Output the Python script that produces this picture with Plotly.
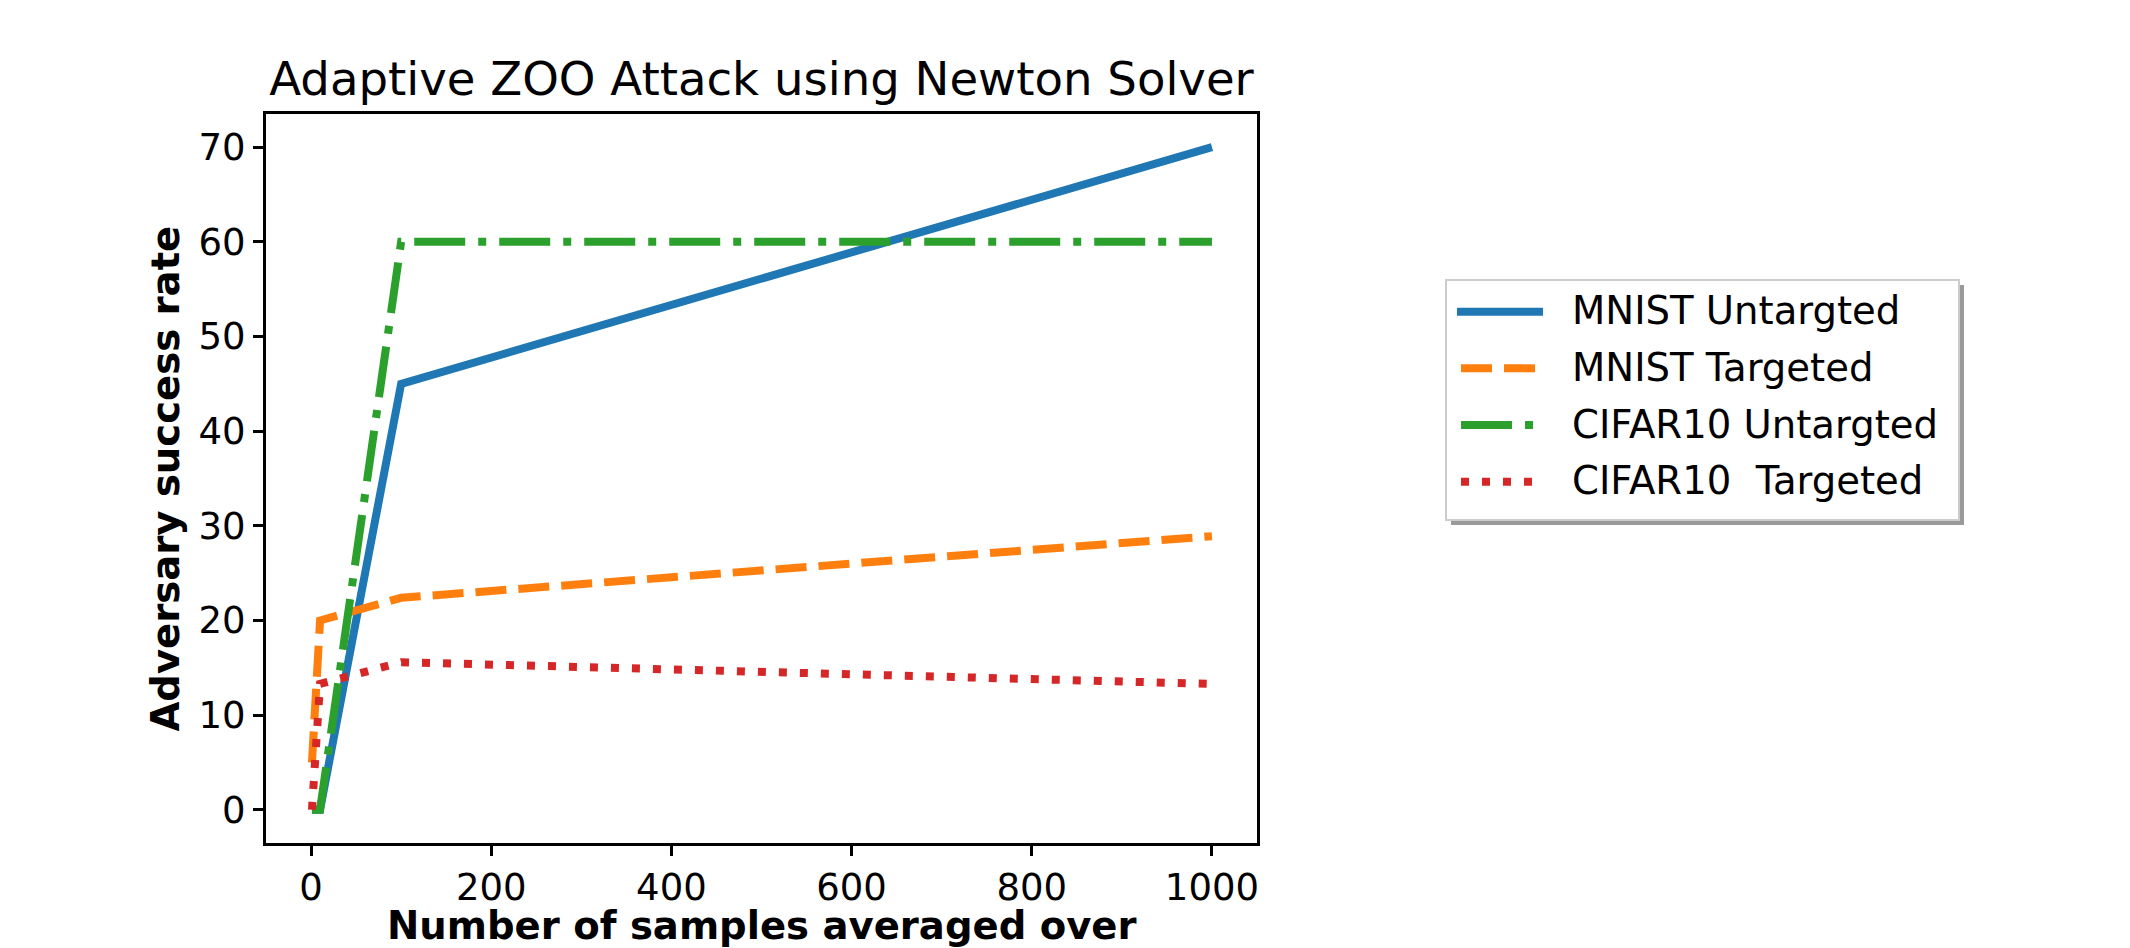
import plotly.graph_objects as go

# ---------------- data ----------------
series_names = ["MNIST Untargted", "MNIST Targeted", "CIFAR10 Untargted", "CIFAR10  Targeted"]
x_mnist_untargeted = [1, 10, 100, 1000]
y_mnist_untargeted = [0, 0, 45, 70]
x_mnist_targeted = [1, 10, 100, 1000]
y_mnist_targeted = [5, 20, 22.4, 28.9]
x_cifar_untargeted = [1, 10, 100, 1000]
y_cifar_untargeted = [0, 0, 60, 60]
x_cifar_targeted = [1, 10, 100, 1000]
y_cifar_targeted = [0, 13.3, 15.6, 13.3]
x_tick_values = [0, 200, 400, 600, 800, 1000]
y_tick_values = [0, 10, 20, 30, 40, 50, 60, 70]

title_text = "Adaptive ZOO Attack using Newton Solver"
x_label = "Number of samples averaged over"
y_label = "Adversary success rate"

# ---------------- style ----------------
W, H = 2130, 948
PL, PR, PT, PB = 266, 1257, 114, 843  # plot area in pixels
colors = ["#1f77b4", "#ff7f0e", "#2ca02c", "#d62728"]
dashes = ["solid", "31px,12px", "51px,13px,8px,13px", "8px,13px"]
LW = 8
FONT = "DejaVu Sans"
TICK_SIZE = 37
LABEL_SIZE = 38.6
TITLE_SIZE = 46.6

def px_x(p):
    return (p - PL) / (PR - PL)

def px_y(p):
    return (PB - p) / (PB - PT)

series = [
    (x_mnist_untargeted, y_mnist_untargeted),
    (x_mnist_targeted, y_mnist_targeted),
    (x_cifar_untargeted, y_cifar_untargeted),
    (x_cifar_targeted, y_cifar_targeted),
]

fig = go.Figure()
for (xs, ys), name, c, d in zip(series, series_names, colors, dashes):
    fig.add_trace(go.Scatter(
        x=xs, y=ys, mode="lines", name=name, showlegend=False,
        line=dict(color=c, width=LW, dash=d), hoverinfo="x+y+name",
    ))

# ---------------- custom legend (matplotlib style with shadow) ----------------
LB_L, LB_R, LB_T, LB_B = 1446, 1959, 280, 520
shapes = []
shapes.append(dict(type="rect", xref="paper", yref="paper",
                   x0=px_x(LB_L + 5), x1=px_x(LB_R + 5), y0=px_y(LB_B + 5), y1=px_y(LB_T + 5),
                   fillcolor="#9a9a9a", line=dict(width=0), layer="above"))
shapes.append(dict(type="rect", xref="paper", yref="paper",
                   x0=px_x(LB_L), x1=px_x(LB_R), y0=px_y(LB_B), y1=px_y(LB_T),
                   fillcolor="white", line=dict(color="#cccccc", width=2), layer="above"))
entry_y = [311.7, 368.3, 425.0, 481.7]
annotations = []
for i, (name, c, d) in enumerate(zip(series_names, colors, dashes)):
    x0 = 1457 if d == "solid" else 1461
    x1 = 1543 if d == "solid" else 1537
    shapes.append(dict(type="line", xref="paper", yref="paper",
                       x0=px_x(x0), x1=px_x(x1), y0=px_y(entry_y[i]), y1=px_y(entry_y[i]),
                       line=dict(color=c, width=LW, dash=d), layer="above"))
    annotations.append(dict(xref="paper", yref="paper", x=px_x(1570), y=px_y(entry_y[i] - 1),
                            text=name.replace("  ", "\u00a0 "), showarrow=False,
                            xanchor="left", yanchor="middle",
                            font=dict(family=FONT, size=LABEL_SIZE, color="black")))

# axis titles
annotations.append(dict(xref="paper", yref="paper", x=0.5, y=px_y(925), text="<b>%s</b>" % x_label,
                        showarrow=False, xanchor="center", yanchor="middle",
                        font=dict(family=FONT, size=LABEL_SIZE, color="black")))
annotations.append(dict(xref="paper", yref="paper", x=px_x(165), y=0.5, text="<b>%s</b>" % y_label,
                        showarrow=False, xanchor="center", yanchor="middle", textangle=-90,
                        font=dict(family=FONT, size=LABEL_SIZE, color="black")))

axis_common = dict(
    showline=True, linecolor="black", linewidth=3, mirror=True,
    ticks="outside", ticklen=10, tickwidth=3, tickcolor="black",
    showgrid=False, zeroline=False,
    tickfont=dict(family=FONT, size=TICK_SIZE, color="black"),
)

fig.update_layout(
    width=W, height=H,
    margin=dict(l=PL, r=W - PR, t=PT, b=H - PB, autoexpand=False),
    paper_bgcolor="white", plot_bgcolor="white",
    title=dict(text=title_text, x=0.5, xref="paper", xanchor="center",
               y=1 - 79 / H, yref="container", yanchor="middle",
               font=dict(family=FONT, size=TITLE_SIZE, color="black")),
    xaxis=dict(range=[-50, 1050], tickvals=x_tick_values, **axis_common),
    yaxis=dict(range=[-3.5, 73.5], tickvals=y_tick_values, **axis_common),
    shapes=shapes, annotations=annotations,
    showlegend=False,
)

fig.write_html("out.html", config={"displayModeBar": False},
               post_script="document.body.style.margin='0';document.body.style.overflow='hidden';")
